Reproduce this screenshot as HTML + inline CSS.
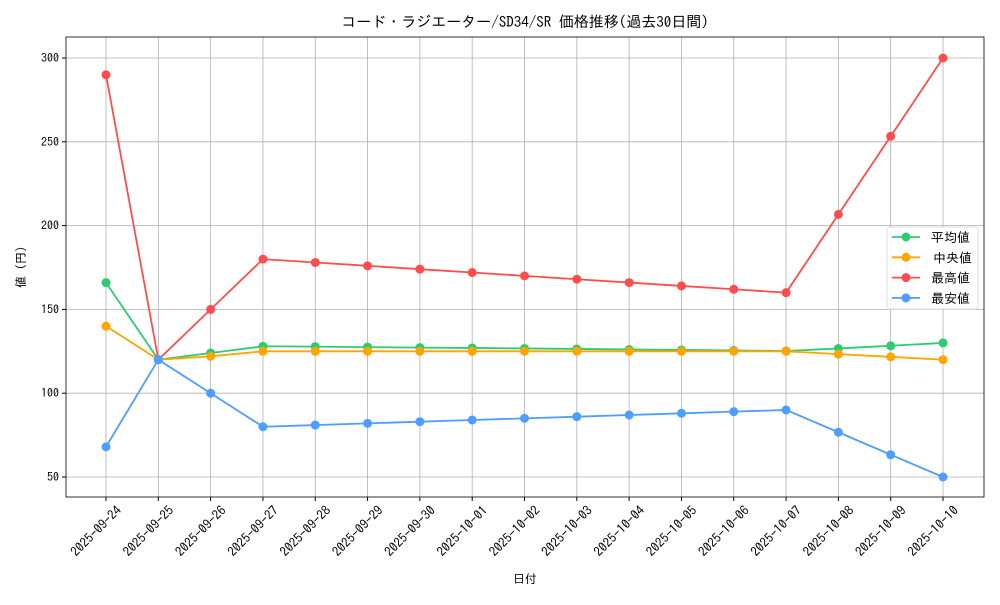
<!DOCTYPE html><html><head><meta charset="utf-8"><style>body{margin:0;background:#fff}svg text{font-family:"IPAGothic","Noto Sans CJK JP",sans-serif;fill:#000}</style></head><body>
<svg id="s" width="1000" height="600" xmlns="http://www.w3.org/2000/svg"></svg>
<script>
const s=document.getElementById('s');let h='';
const L=66,R=984,T=37,B=497;
const X=i=>106+i*(943-106)/16, Y=v=>477-(v-50)*(477-58)/250;
const dates=['2025-09-24','2025-09-25','2025-09-26','2025-09-27','2025-09-28','2025-09-29','2025-09-30','2025-10-01','2025-10-02','2025-10-03','2025-10-04','2025-10-05','2025-10-06','2025-10-07','2025-10-08','2025-10-09','2025-10-10'];
h+=`<rect x="${L}" y="${T}" width="${R-L}" height="${B-T}" fill="#fff"/>`;
dates.forEach((d,i)=>{const x=X(i);h+=`<line x1="${x}" y1="${T}" x2="${x}" y2="${B}" stroke="#b0b0b0" stroke-width="0.8"/><line x1="${x}" y1="${B}" x2="${x}" y2="${B+4}" stroke="#000"/><text transform="translate(${x+10},${B+8}) rotate(-45)" text-anchor="end" dominant-baseline="hanging" font-size="13">${d}</text>`});
[50,100,150,200,250,300].forEach(v=>{const y=Y(v);h+=`<line x1="${L}" y1="${y}" x2="${R}" y2="${y}" stroke="#b0b0b0" stroke-width="0.8"/><line x1="${L-4}" y1="${y}" x2="${L}" y2="${y}" stroke="#000"/><text x="${L-7}" y="${y+4}" text-anchor="end" font-size="12">${v}</text>`});
h+=`<rect x="${L}" y="${T}" width="${R-L}" height="${B-T}" fill="none" stroke="#000" stroke-width="0.8"/>`;
const S=[['#2ecc71',[166,120,124,128,127.8,127.5,127.2,127,126.7,126.4,126.1,125.8,125.5,125.2,126.7,128.3,130]],
['#ffa500',[140,120,122,125,125,125,125,125,125,125,125,125,125,125,123.3,121.7,120]],
['#ff4d4d',[290,120,150,180,178,176,174,172,170,168,166,164,162,160,206.7,253.3,300]],
['#4d9eff',[68,120,100,80,81,82,83,84,85,86,87,88,89,90,76.7,63.3,50]]];
S.forEach(([c,d])=>{h+=`<polyline fill="none" stroke="${c}" stroke-width="1.8" points="${d.map((v,i)=>X(i)+','+Y(v)).join(' ')}"/>`;d.forEach((v,i)=>h+=`<circle cx="${X(i)}" cy="${Y(v)}" r="4.5" fill="${c}"/>`)});
h+=`<rect x="887" y="227" width="91" height="82" rx="3" fill="#fff" fill-opacity="0.85" stroke="#ddd"/>`;
['平均値','中央値','最高値','最安値'].forEach((t,i)=>{const y=237+i*20.3,c=S[i][0];h+=`<line x1="892" y1="${y}" x2="920" y2="${y}" stroke="${c}" stroke-width="1.8"/><circle cx="906" cy="${y}" r="4.5" fill="${c}"/><text x="${t=='中央値'?933:931}" y="${y+5}" font-size="13">${t}</text>`});
h+=`<text x="525" y="27" text-anchor="middle" font-size="15">コード・ラジエーター/SD34/SR 価格推移(過去30日間)</text>`;
h+=`<text x="525" y="583" text-anchor="middle" font-size="12">日付</text>`;
h+=`<text transform="translate(25,267) rotate(-90)" text-anchor="middle" font-size="12">値 (円)</text>`;
s.innerHTML=h;
</script></body></html>
